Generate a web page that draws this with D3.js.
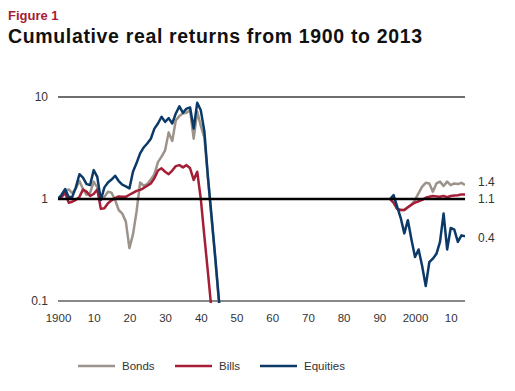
<!DOCTYPE html>
<html lang="en">
<head>
    <meta charset="UTF-8">
    <title>Cumulative real returns</title>
    <script src="https://cdn.jsdelivr.net/npm/d3@7"></script>
    <style>
        body{margin:0;background:#fff}
        text{font-family:"Liberation Sans",Arial,sans-serif}
    </style>
</head>
<body>
<div class="chart"></div>
<script>
    // first stretch, 1900 to 1946
    let years1=[1900,1901,1902,1903,1904,1905,1906,1907,1908,1909,1910,1911,1912,1913,1914,1915,1916,1917,1918,1919,
        1920,1921,1922,1923,1924,1925,1926,1927,1928,1929,1930,1931,1932,1933,1934,1935,1936,1937,1938,1939,
        1940,1941,1942,1943,1944,1945,1946]
    let bonds1=[1.00,1.05,1.20,1.24,1.14,1.27,1.50,1.25,1.10,1.15,1.48,1.30,1.00,1.05,1.18,1.15,0.98,0.78,0.72,0.60,
        0.33,0.45,0.75,1.45,1.35,1.40,1.55,1.75,2.30,2.60,3.00,4.50,3.70,5.90,6.50,6.90,7.00,7.40,3.90,7.20,
        5.20,4.00,1.60,0.66,0.27,0.105,0.044]
    let bills1=[1.00,1.05,1.15,0.92,0.94,0.98,1.05,1.24,1.18,1.07,1.12,1.24,0.80,0.81,0.91,0.97,1.02,1.06,1.05,1.05,
        1.10,1.15,1.20,1.23,1.28,1.35,1.42,1.60,1.90,2.00,1.85,1.75,1.90,2.10,2.15,2.04,2.15,2.00,1.54,1.85,
        1.00,0.43,0.19,0.082]
    let equities1=[1.00,1.10,1.25,1.04,1.05,1.30,1.75,1.62,1.40,1.37,1.92,1.65,0.98,1.30,1.45,1.55,1.69,1.50,1.38,1.33,
        1.27,1.85,2.25,2.80,3.20,3.50,3.90,4.90,5.50,6.40,5.70,6.20,5.50,6.90,8.10,7.00,7.70,7.90,4.90,8.80,
        7.40,4.60,1.64,0.68,0.28,0.11,0.045]
    // second stretch, 1993 to 2014
    let years2=[1993,1994,1995,1996,1997,1998,1999,2000,2001,2002,2003,2004,2005,2006,2007,2008,2009,2010,2011,2012,2013,2014]
    let bonds2=[1.00,0.92,0.80,0.78,0.78,0.83,0.88,0.98,1.14,1.32,1.44,1.42,1.18,1.42,1.48,1.34,1.48,1.37,1.42,1.40,1.44,1.37]
    let bills2=[1.00,0.92,0.80,0.78,0.78,0.83,0.88,0.92,0.95,0.98,1.03,1.05,1.07,1.06,1.05,1.07,1.04,1.07,1.08,1.09,1.11,1.11]
    let equities2=[1.00,1.09,0.84,0.65,0.46,0.62,0.40,0.27,0.32,0.22,0.14,0.24,0.26,0.29,0.38,0.72,0.32,0.52,0.50,0.38,0.44,0.43]

    let xTicks=[1900,1910,1920,1930,1940,1950,1960,1970,1980,1990,2000,2010]
    let xTickLabels=['1900','10','20','30','40','50','60','70','80','90','2000','10']
    let yTicks=[0.1,1,10]
    let yTickLabels=['0.1','1','10']
    let seriesNames=['Bonds','Bills','Equities']
    let seriesColors=['#9c938b','#a51d36','#0b3a68']
    let endLabels=['1.4','1.1','0.4']

    let width=515,height=391
    let svg=d3.select('.chart').append('svg').attr('width',width).attr('height',height)

    let x=d3.scaleLinear().domain([1900,2014]).range([58,465])
    let y=d3.scaleLog().domain([0.1,10]).range([301,97])

    svg.append('text').attr('x',8).attr('y',20).text('Figure 1')
        .attr('fill','#a51d36').style('font-weight','bold').style('font-size','13px')
    svg.append('text').attr('x',8).attr('y',43).text('Cumulative real returns from 1900 to 2013')
        .attr('fill','#111').style('font-weight','bold').style('font-size','19.5px').style('letter-spacing','0.65px')

    // gridlines
    svg.append('line').attr('x1',x.range()[0]).attr('x2',x.range()[1]).attr('y1',y(10)).attr('y2',y(10))
        .attr('stroke','#6f6f6f').attr('stroke-width',2)
    svg.append('line').attr('x1',x.range()[0]).attr('x2',x.range()[1]).attr('y1',y(0.1)).attr('y2',y(0.1))
        .attr('stroke','#111').attr('stroke-width',1)

    // axes
    let yAxis=d3.axisLeft(y).tickValues(yTicks).tickSize(0).tickPadding(10)
        .tickFormat((d,i)=>yTickLabels[i])
    let gy=svg.append('g').attr('transform','translate('+x.range()[0]+',0)').call(yAxis)
    gy.select('.domain').remove()
    gy.selectAll('text').style('font-size','12px').attr('fill','#333')

    let xAxis=d3.axisBottom(x).tickValues(xTicks).tickSize(0).tickPadding(13)
        .tickFormat((d,i)=>xTickLabels[i])
    let gx=svg.append('g').attr('transform','translate(0,'+y(0.1)+')').call(xAxis)
    gx.select('.domain').remove()
    gx.selectAll('text').style('font-size','11.5px').attr('fill','#333')

    svg.append('clipPath').attr('id','plot').append('rect')
        .attr('x',x.range()[0]).attr('y',90).attr('width',x.range()[1]-x.range()[0]).attr('height',y(0.1)+2-90)

    let line=d3.line().x(d=>x(d[0])).y(d=>y(d[1]))
    let segments=[
        [[years1,bonds1],[years2,bonds2]],
        [[years1,bills1],[years2,bills2]],
        [[years1,equities1],[years2,equities2]]
    ]
    let g=svg.append('g').attr('clip-path','url(#plot)')
    segments.forEach(function(parts,k){
        parts.forEach(function(p){
            let pts=p[1].map((v,i)=>[p[0][i],v])
            g.append('path').datum(pts).attr('d',line).attr('fill','none')
                .attr('stroke',seriesColors[k]).attr('stroke-width',2.5).attr('stroke-linejoin','round')
        })
    })

    // line at 1 on top
    svg.append('line').attr('x1',x.range()[0]).attr('x2',x.range()[1]).attr('y1',y(1)).attr('y2',y(1))
        .attr('stroke','#000').attr('stroke-width',2.5)

    // end labels
    let lastVals=[bonds2[bonds2.length-1],bills2[bills2.length-1],equities2[equities2.length-1]]
    let nudge=[-3,4,1.5]
    endLabels.forEach(function(t,i){
        svg.append('text').attr('x',478).attr('y',y(lastVals[i])+nudge[i]).attr('dy','0.35em')
            .text(t).attr('fill','#333').style('font-size','12px')
    })

    // legend
    let legendX=[78,175,260]
    let legend=svg.append('g').attr('transform','translate(0,366)')
    seriesNames.forEach(function(n,i){
        legend.append('line').attr('x1',legendX[i]).attr('x2',legendX[i]+37).attr('y1',0).attr('y2',0)
            .attr('stroke',seriesColors[i]).attr('stroke-width',2.5)
        legend.append('text').attr('x',legendX[i]+44).attr('y',0).attr('dy','0.35em').text(n)
            .attr('fill','#333').style('font-size','11.5px')
    })
</script>
</body>
</html>
